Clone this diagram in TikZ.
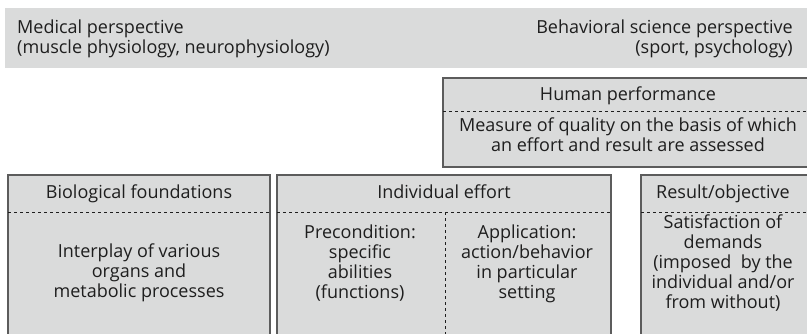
\documentclass[tikz,border=0pt]{standalone}
\usepackage{fontspec}
\setmainfont{Open Sans}
\usetikzlibrary{positioning}

\definecolor{boxgray}{HTML}{DADBDB}
\definecolor{linegray}{HTML}{5C5C5C}
\definecolor{textgray}{HTML}{1E1E1E}

\tikzset{
    panel/.style={fill=boxgray, draw=linegray, line width=1.6pt},
    sep/.style={draw=textgray, dashed, dash pattern=on 3pt off 3pt, line width=0.7pt},
    label/.style={inner sep=0pt, text=textgray, font=\fontsize{18}{20}\selectfont},
    para/.style={label, align=center, anchor=base},
}

\begin{document}
\begin{tikzpicture}[x=1pt, y=-1pt]
    \useasboundingbox (0, 0) rectangle (807, 333);
    \clip (0, 0) rectangle (807, 333);

    % perspectives band (base anchor sits on the last line)
    \fill[boxgray] (5, 8) rectangle (812, 68);
    \node[label, align=left, anchor=base west] (medical) at (17, 53)
        {Medical perspective\\(muscle physiology, neurophysiology)};
    \node[label, align=right, anchor=base east] (behavioral) at (793, 53)
        {Behavioral science perspective\\(sport, psychology)};

    % human performance
    \draw[panel] (443, 78) rectangle (815, 167);
    \draw[sep] (443, 111) -- (815, 111);
    \node[para] (human) at (628, 100) {Human performance};
    \node[para] (measure) at (628, 151)
        {Measure of quality on the basis of which\\an effort and result are assessed};

    % lower row
    \draw[panel] (8, 175) rectangle (270, 345);
    \draw[panel] (277, 175) rectangle (611, 345);
    \draw[panel] (641, 175) rectangle (815, 345);
    \draw[sep] (8, 212) -- (270, 212);
    \draw[sep] (277, 212) -- (611, 212);
    \draw[sep] (641, 212) -- (815, 212);
    \draw[sep] (445, 212) -- (445, 345);

    \node[para] (bio) at (139, 198) {Biological foundations};
    \node[para] (interplay) at (139, 297)
        {Interplay of various\\organs and\\metabolic processes};

    \node[para] (effort) at (444, 198) {Individual effort};
    \node[para] (precond) at (360, 298)
        {Precondition:\\specific\\abilities\\(functions)};
    \node[para] (applic) at (527, 298)
        {Application:\\action/behavior\\in particular\\setting};

    \node[para] (result) at (723, 198) {Result/objective};
    \node[para] (satisf) at (723, 308)
        {Satisfaction of\\demands\\(imposed\ \ by the\\individual and/or\\from without)};
\end{tikzpicture}
\end{document}
